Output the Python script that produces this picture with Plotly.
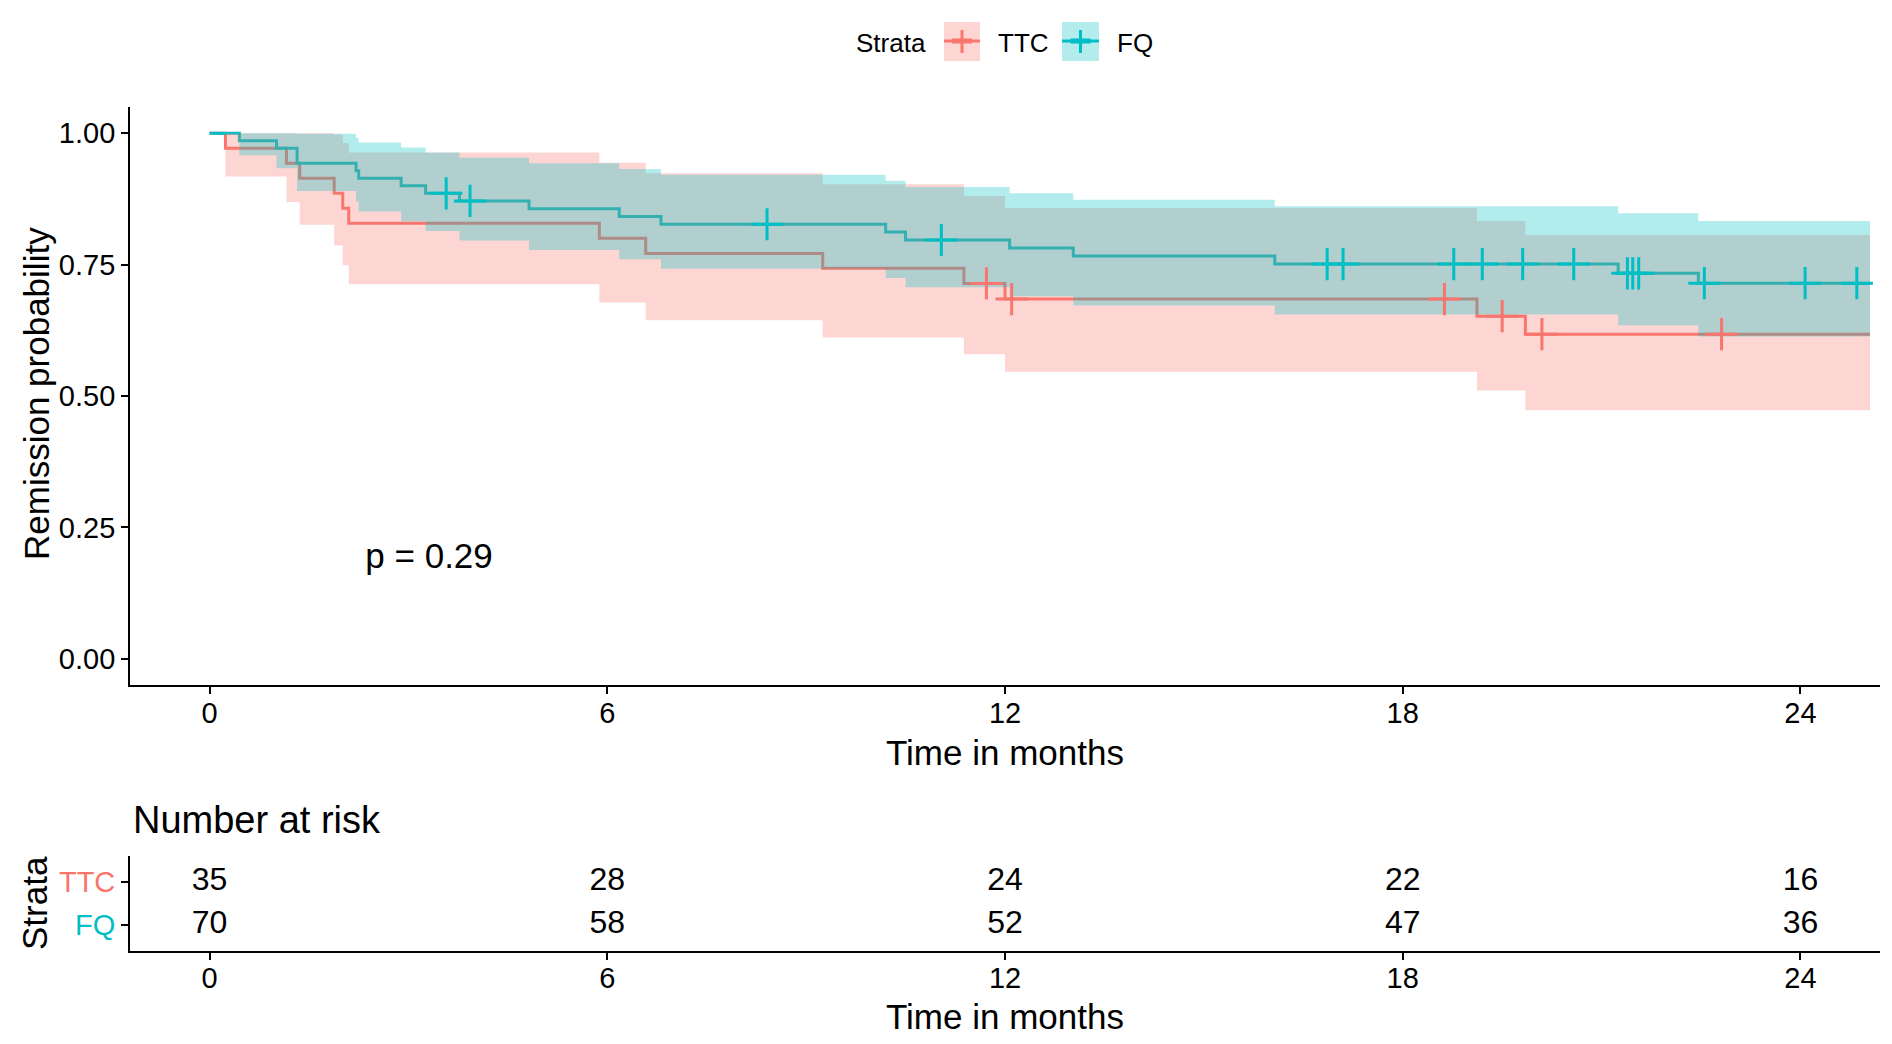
import plotly.graph_objects as go

# ---------------- data ----------------
ttc_time  = [0, 0.24, 1.16, 1.36, 1.88, 2.01, 2.10, 5.88, 6.58, 9.25, 11.38, 12.00, 19.12, 19.85, 25.05]
ttc_surv  = [1, 0.9714, 0.9429, 0.9143, 0.8857, 0.8571, 0.8286, 0.8000, 0.7714, 0.7429, 0.7143, 0.6845, 0.6519, 0.6176, 0.6176]
ttc_lower = [1, 0.9178, 0.8690, 0.8261, 0.7864, 0.7487, 0.7127, 0.6779, 0.6441, 0.6113, 0.5793, 0.5463, 0.5103, 0.4729, 0.4729]
ttc_upper = [1, 1, 1, 1, 0.9976, 0.9813, 0.9633, 0.9441, 0.9238, 0.9028, 0.8808, 0.8577, 0.8329, 0.8065, 0.8065]
ttc_cens_time = [11.72, 12.10, 18.63, 19.50, 20.10, 22.81]
ttc_cens_surv = [0.7143, 0.6845, 0.6845, 0.6519, 0.6176, 0.6176]

fq_time  = [0, 0.45, 1.01, 1.32, 2.21, 2.25, 2.89, 3.26, 3.77, 4.82, 6.18, 6.81, 10.20, 10.50, 12.07, 13.03, 16.07, 21.25, 22.46, 25.05]
fq_surv  = [1, 0.9857, 0.9714, 0.9429, 0.9286, 0.9143, 0.9000, 0.8857, 0.8712, 0.8564, 0.8417, 0.8269, 0.8119, 0.7969, 0.7816, 0.7663, 0.7510, 0.7335, 0.7147, 0.7147]
fq_lower = [1, 0.9583, 0.9332, 0.8900, 0.8702, 0.8510, 0.8324, 0.8142, 0.7961, 0.7779, 0.7601, 0.7424, 0.7247, 0.7072, 0.6896, 0.6721, 0.6549, 0.6348, 0.6131, 0.6131]
fq_upper = [1, 1, 1, 0.9989, 0.9909, 0.9823, 0.9731, 0.9634, 0.9534, 0.9429, 0.9321, 0.9210, 0.9096, 0.8979, 0.8859, 0.8737, 0.8613, 0.8476, 0.8331, 0.8331]
fq_cens_time = [3.57, 3.93, 8.41, 11.04, 16.86, 17.10, 18.77, 19.20, 19.81, 20.58, 21.39, 21.47, 21.56, 22.55, 24.07, 24.85]
fq_cens_surv = [0.8857, 0.8712, 0.8269, 0.7969, 0.7510, 0.7510, 0.7510, 0.7510, 0.7510, 0.7510, 0.7335, 0.7335, 0.7335, 0.7147, 0.7147, 0.7147]

risk_times = [0, 6, 12, 18, 24]
risk_ttc = [35, 28, 24, 22, 16]
risk_fq = [70, 58, 52, 47, 36]

x_ticks = [0, 6, 12, 18, 24]
y_ticks = [0, 0.25, 0.5, 0.75, 1.0]
strata = ["TTC", "FQ"]
p_text = "p = 0.29"

# ---------------- styles ----------------
RED = "#F8766D"
TEAL = "#00BFC4"
RED_FILL = "rgba(248,118,109,0.3)"
TEAL_FILL = "rgba(0,191,196,0.3)"
FONT = "Liberation Sans, Arial, sans-serif"
PAGE_W, PAGE_H = 1892, 1044
OFF = 8  # default body margin of the html page
W, H = PAGE_W - 2 * OFF, PAGE_H - 2 * OFF


def px(x):
    return (x - OFF) / W


def py(y):
    return 1 - (y - OFF) / H


fig = go.Figure()

# step lines first (ribbons are drawn over them, as in the reference)
fig.add_trace(go.Scatter(x=ttc_time, y=ttc_surv, mode="lines", line=dict(color=RED, width=3, shape="hv"),
                         xaxis="x", yaxis="y", hoverinfo="skip"))
fig.add_trace(go.Scatter(x=fq_time, y=fq_surv, mode="lines", line=dict(color=TEAL, width=3, shape="hv"),
                         xaxis="x", yaxis="y", hoverinfo="skip"))

# confidence ribbons
fig.add_trace(go.Scatter(x=ttc_time, y=ttc_lower, mode="lines", line=dict(width=0, shape="hv", color=RED),
                         xaxis="x", yaxis="y", hoverinfo="skip"))
fig.add_trace(go.Scatter(x=ttc_time, y=ttc_upper, mode="lines", line=dict(width=0, shape="hv", color=RED),
                         fill="tonexty", fillcolor=RED_FILL, xaxis="x", yaxis="y", hoverinfo="skip"))
fig.add_trace(go.Scatter(x=fq_time, y=fq_lower, mode="lines", line=dict(width=0, shape="hv", color=TEAL),
                         xaxis="x", yaxis="y", hoverinfo="skip"))
fig.add_trace(go.Scatter(x=fq_time, y=fq_upper, mode="lines", line=dict(width=0, shape="hv", color=TEAL),
                         fill="tonexty", fillcolor=TEAL_FILL, xaxis="x", yaxis="y", hoverinfo="skip"))

# censor marks
fig.add_trace(go.Scatter(x=ttc_cens_time, y=ttc_cens_surv, mode="markers",
                         marker=dict(symbol="cross-thin", size=23, line=dict(color=RED, width=3)),
                         xaxis="x", yaxis="y", hoverinfo="skip"))
fig.add_trace(go.Scatter(x=fq_cens_time, y=fq_cens_surv, mode="markers",
                         marker=dict(symbol="cross-thin", size=23, line=dict(color=TEAL, width=3)),
                         xaxis="x", yaxis="y", hoverinfo="skip"))

# p-value
fig.add_trace(go.Scatter(x=[2.35], y=[0.19], mode="text", text=[p_text], textposition="middle right",
                         textfont=dict(family=FONT, size=35, color="black"), xaxis="x", yaxis="y", hoverinfo="skip"))

# risk table numbers
fig.add_trace(go.Scatter(x=risk_times + risk_times, y=[2] * len(risk_times) + [1] * len(risk_times),
                         mode="text", text=[str(v) for v in risk_ttc + risk_fq], textposition="middle center",
                         textfont=dict(family=FONT, size=32, color="black"), xaxis="x2", yaxis="y2", hoverinfo="skip"))

x_dom = [px(130), px(1880)]
axis_common = dict(showline=True, linecolor="black", linewidth=1.8, ticks="outside", ticklen=7,
                   tickwidth=1.8, tickcolor="black", showgrid=False, zeroline=False,
                   tickfont=dict(family=FONT, size=29, color="black"))

fig.update_layout(
    width=W, height=H, margin=dict(l=0, r=0, t=0, b=0),
    paper_bgcolor="white", plot_bgcolor="white", showlegend=False,
    font=dict(family=FONT, color="black"),
    xaxis=dict(domain=x_dom, range=[-1.2, 25.2], tickvals=x_ticks, anchor="y",
               ticklabelstandoff=-6, **axis_common),
    yaxis=dict(domain=[py(685), py(107)], range=[-0.05, 1.05], tickvals=y_ticks, tickformat=".2f",
               anchor="x", **axis_common),
    xaxis2=dict(domain=x_dom, range=[-1.2, 25.2], tickvals=x_ticks, anchor="y2",
                ticklabelstandoff=-7, **axis_common),
    yaxis2=dict(domain=[py(951), py(856)], range=[0.4, 2.6], tickvals=[2, 1],
                ticktext=['<span style="color:%s">%s</span>' % (RED, strata[0]),
                          '<span style="color:%s">%s</span>' % (TEAL, strata[1])],
                anchor="x2", **axis_common),
)


def note(text, x, y, size, xanchor="center", angle=0):
    return dict(text=text, x=px(x), y=py(y), xref="paper", yref="paper", xanchor=xanchor, yanchor="middle",
                showarrow=False, textangle=angle, font=dict(family=FONT, size=size, color="black"))


ann = [
    note("Time in months", 1005, 752, 35),
    note("Time in months", 1005, 1016, 35),
    note("Remission probability", 36, 394, 35, angle=-90),
    note("Strata", 34, 903, 35, angle=-90),
    note("Number at risk", 131, 820, 38, xanchor="left"),
    # legend
    note("Strata", 928, 43, 26, xanchor="right"),
    note(strata[0], 996, 43, 26, xanchor="left"),
    note(strata[1], 1115, 43, 26, xanchor="left"),
]
fig.update_layout(annotations=ann)

shapes = []
for (x0, x1, col, fillc) in [(944, 980, RED, RED_FILL), (1062, 1099, TEAL, TEAL_FILL)]:
    cx = (x0 + x1) / 2
    shapes.append(dict(type="rect", xref="paper", yref="paper", x0=px(x0), x1=px(x1), y0=py(61), y1=py(22),
                       fillcolor=fillc, line=dict(width=0)))
    shapes.append(dict(type="line", xref="paper", yref="paper", x0=px(x0), x1=px(x1), y0=py(41), y1=py(41),
                       line=dict(color=col, width=3)))
    shapes.append(dict(type="line", xref="paper", yref="paper", x0=px(cx - 10), x1=px(cx + 10), y0=py(41), y1=py(41),
                       line=dict(color=col, width=5)))
    shapes.append(dict(type="line", xref="paper", yref="paper", x0=px(cx), x1=px(cx), y0=py(30), y1=py(53),
                       line=dict(color=col, width=3)))
fig.update_layout(shapes=shapes)

fig.write_html("out.html")
